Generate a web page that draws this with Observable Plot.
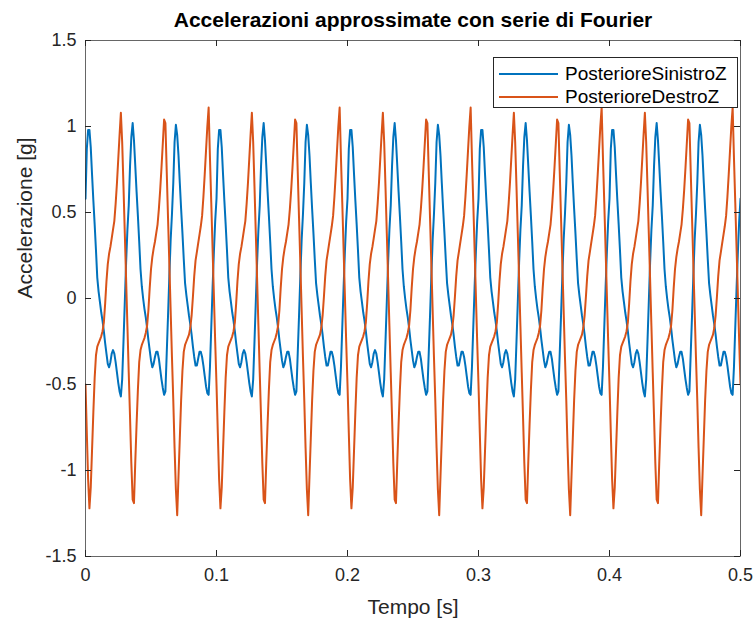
<!DOCTYPE html>
<html>
<head>
<meta charset="utf-8">
<script src="https://cdn.jsdelivr.net/npm/d3@7"></script>
<script src="https://cdn.jsdelivr.net/npm/@observablehq/plot@0.6"></script>
<style>
  html, body { margin: 0; padding: 0; background: #fff; }
  #wrap { position: relative; width: 755px; height: 619px; overflow: hidden; }
  #legend {
    position: absolute; left: 493px; top: 57px; width: 245px; height: 51px;
    border: 1px solid #262626; background: #fff; box-sizing: border-box;
    font-family: "Liberation Sans", Arial, sans-serif; font-size: 19px; color: #000;
  }
  .row { position: absolute; left: 5px; height: 22px; display: flex; align-items: center; }
  .sw { width: 59px; height: 2px; margin-right: 7px; }
</style>
</head>
<body>
<div id="wrap">
  <div id="chart"></div>
  <div id="legend"></div>
</div>
<script>
// Sample step of the series (seconds)
const dt = 0.001;
const seriesNames = ["PosterioreSinistroZ", "PosterioreDestroZ"];
const seriesColors = ["#0072BD", "#D95319"];
const titleText = "Accelerazioni approssimate con serie di Fourier";
const xLabel = "Tempo [s]";
const yLabel = "Accelerazione [g]";
const xTicks = [0, 0.1, 0.2, 0.3, 0.4, 0.5];
const xTickLabels = ["0", "0.1", "0.2", "0.3", "0.4", "0.5"];
const yTicks = [-1.5, -1, -0.5, 0, 0.5, 1, 1.5];
const yTickLabels = ["-1.5", "-1", "-0.5", "0", "0.5", "1", "1.5"];

// PosterioreSinistroZ, one value per ms from 0 to 0.5 s
const sinistroZ = [
0.58,0.87,0.98,0.98,0.88,0.72,0.57,0.43,0.28,0.12,0.04,-0.02,-0.08,-0.13,-0.19,-0.26,-0.32,-0.38,-0.40,-0.37,-0.32,-0.30,-0.32,-0.37,-0.43,-0.49,-0.54,-0.57,-0.47,-0.25,-0.02,0.21,0.40,0.54,
0.77,0.94,1.02,0.92,0.77,0.62,0.48,0.33,0.17,0.07,0.00,-0.06,-0.11,-0.17,-0.24,-0.30,-0.36,-0.40,-0.38,-0.34,-0.31,-0.31,-0.35,-0.41,-0.47,-0.52,-0.56,-0.54,-0.32,-0.10,0.13,0.34,0.49,
0.67,0.91,1.01,0.95,0.83,0.67,0.52,0.38,0.23,0.09,0.02,-0.04,-0.10,-0.15,-0.21,-0.28,-0.34,-0.39,-0.39,-0.35,-0.31,-0.31,-0.34,-0.39,-0.45,-0.51,-0.55,-0.56,-0.40,-0.17,0.06,0.27,0.45,
0.58,0.87,0.98,0.98,0.88,0.72,0.57,0.43,0.28,0.12,0.04,-0.02,-0.08,-0.13,-0.19,-0.26,-0.32,-0.38,-0.40,-0.37,-0.32,-0.30,-0.32,-0.37,-0.43,-0.49,-0.54,-0.57,-0.47,-0.25,-0.02,0.21,0.40,0.54,
0.77,0.94,1.02,0.92,0.77,0.62,0.48,0.33,0.17,0.07,0.00,-0.06,-0.11,-0.17,-0.24,-0.30,-0.36,-0.40,-0.38,-0.34,-0.31,-0.31,-0.35,-0.41,-0.47,-0.52,-0.56,-0.54,-0.32,-0.10,0.13,0.34,0.49,
0.67,0.91,1.01,0.95,0.83,0.67,0.52,0.38,0.23,0.09,0.02,-0.04,-0.10,-0.15,-0.21,-0.28,-0.34,-0.39,-0.39,-0.35,-0.31,-0.31,-0.34,-0.39,-0.45,-0.51,-0.55,-0.56,-0.40,-0.17,0.06,0.27,0.45,
0.58,0.87,0.98,0.98,0.88,0.72,0.57,0.43,0.28,0.12,0.04,-0.02,-0.08,-0.13,-0.19,-0.26,-0.32,-0.38,-0.40,-0.37,-0.32,-0.30,-0.32,-0.37,-0.43,-0.49,-0.54,-0.57,-0.47,-0.25,-0.02,0.21,0.40,0.54,
0.77,0.94,1.02,0.92,0.77,0.62,0.48,0.33,0.17,0.07,0.00,-0.06,-0.11,-0.17,-0.24,-0.30,-0.36,-0.40,-0.38,-0.34,-0.31,-0.31,-0.35,-0.41,-0.47,-0.52,-0.56,-0.54,-0.32,-0.10,0.13,0.34,0.49,
0.67,0.91,1.01,0.95,0.83,0.67,0.52,0.38,0.23,0.09,0.02,-0.04,-0.10,-0.15,-0.21,-0.28,-0.34,-0.39,-0.39,-0.35,-0.31,-0.31,-0.34,-0.39,-0.45,-0.51,-0.55,-0.56,-0.40,-0.17,0.06,0.27,0.45,
0.58,0.87,0.98,0.98,0.88,0.72,0.57,0.43,0.28,0.12,0.04,-0.02,-0.08,-0.13,-0.19,-0.26,-0.32,-0.38,-0.40,-0.37,-0.32,-0.30,-0.32,-0.37,-0.43,-0.49,-0.54,-0.57,-0.47,-0.25,-0.02,0.21,0.40,0.54,
0.77,0.94,1.02,0.92,0.77,0.62,0.48,0.33,0.17,0.07,0.00,-0.06,-0.11,-0.17,-0.24,-0.30,-0.36,-0.40,-0.38,-0.34,-0.31,-0.31,-0.35,-0.41,-0.47,-0.52,-0.56,-0.54,-0.32,-0.10,0.13,0.34,0.49,
0.67,0.91,1.01,0.95,0.83,0.67,0.52,0.38,0.23,0.09,0.02,-0.04,-0.10,-0.15,-0.21,-0.28,-0.34,-0.39,-0.39,-0.35,-0.31,-0.31,-0.34,-0.39,-0.45,-0.51,-0.55,-0.56,-0.40,-0.17,0.06,0.27,0.45,
0.58,0.87,0.98,0.98,0.88,0.72,0.57,0.43,0.28,0.12,0.04,-0.02,-0.08,-0.13,-0.19,-0.26,-0.32,-0.38,-0.40,-0.37,-0.32,-0.30,-0.32,-0.37,-0.43,-0.49,-0.54,-0.57,-0.47,-0.25,-0.02,0.21,0.40,0.54,
0.77,0.94,1.02,0.92,0.77,0.62,0.48,0.33,0.17,0.07,0.00,-0.06,-0.11,-0.17,-0.24,-0.30,-0.36,-0.40,-0.38,-0.34,-0.31,-0.31,-0.35,-0.41,-0.47,-0.52,-0.56,-0.54,-0.32,-0.10,0.13,0.34,0.49,
0.67,0.91,1.01,0.95,0.83,0.67,0.52,0.38,0.23,0.09,0.02,-0.04,-0.10,-0.15,-0.21,-0.28,-0.34,-0.39,-0.39,-0.35,-0.31,-0.31,-0.34,-0.39,-0.45,-0.51,-0.55,-0.56,-0.40,-0.17,0.06,0.27,0.45,
0.58
];

// PosterioreDestroZ, one value per ms from 0 to 0.5 s
const destroZ = [
-0.50,-0.78,-1.05,-1.22,-1.10,-0.88,-0.66,-0.46,-0.33,-0.28,-0.26,-0.24,-0.22,-0.19,-0.14,-0.03,0.10,0.20,0.26,0.30,0.35,0.40,0.45,0.55,0.67,0.81,0.95,1.08,0.91,0.65,0.38,0.11,-0.16,-0.43,
-0.69,-0.96,-1.17,-1.19,-0.95,-0.73,-0.53,-0.37,-0.30,-0.27,-0.25,-0.23,-0.20,-0.16,-0.07,0.06,0.17,0.24,0.29,0.33,0.38,0.43,0.52,0.63,0.76,0.90,1.04,1.02,0.74,0.47,0.20,-0.07,-0.34,
-0.59,-0.87,-1.11,-1.26,-1.03,-0.81,-0.59,-0.42,-0.31,-0.27,-0.25,-0.23,-0.21,-0.17,-0.10,0.01,0.13,0.22,0.27,0.32,0.37,0.42,0.48,0.59,0.72,0.86,1.00,1.11,0.82,0.56,0.29,0.02,-0.25,
-0.50,-0.78,-1.05,-1.22,-1.10,-0.88,-0.66,-0.46,-0.33,-0.28,-0.26,-0.24,-0.22,-0.19,-0.14,-0.03,0.10,0.20,0.26,0.30,0.35,0.40,0.45,0.55,0.67,0.81,0.95,1.08,0.91,0.65,0.38,0.11,-0.16,-0.43,
-0.69,-0.96,-1.17,-1.19,-0.95,-0.73,-0.53,-0.37,-0.30,-0.27,-0.25,-0.23,-0.20,-0.16,-0.07,0.06,0.17,0.24,0.29,0.33,0.38,0.43,0.52,0.63,0.76,0.90,1.04,1.02,0.74,0.47,0.20,-0.07,-0.34,
-0.59,-0.87,-1.11,-1.26,-1.03,-0.81,-0.59,-0.42,-0.31,-0.27,-0.25,-0.23,-0.21,-0.17,-0.10,0.01,0.13,0.22,0.27,0.32,0.37,0.42,0.48,0.59,0.72,0.86,1.00,1.11,0.82,0.56,0.29,0.02,-0.25,
-0.50,-0.78,-1.05,-1.22,-1.10,-0.88,-0.66,-0.46,-0.33,-0.28,-0.26,-0.24,-0.22,-0.19,-0.14,-0.03,0.10,0.20,0.26,0.30,0.35,0.40,0.45,0.55,0.67,0.81,0.95,1.08,0.91,0.65,0.38,0.11,-0.16,-0.43,
-0.69,-0.96,-1.17,-1.19,-0.95,-0.73,-0.53,-0.37,-0.30,-0.27,-0.25,-0.23,-0.20,-0.16,-0.07,0.06,0.17,0.24,0.29,0.33,0.38,0.43,0.52,0.63,0.76,0.90,1.04,1.02,0.74,0.47,0.20,-0.07,-0.34,
-0.59,-0.87,-1.11,-1.26,-1.03,-0.81,-0.59,-0.42,-0.31,-0.27,-0.25,-0.23,-0.21,-0.17,-0.10,0.01,0.13,0.22,0.27,0.32,0.37,0.42,0.48,0.59,0.72,0.86,1.00,1.11,0.82,0.56,0.29,0.02,-0.25,
-0.50,-0.78,-1.05,-1.22,-1.10,-0.88,-0.66,-0.46,-0.33,-0.28,-0.26,-0.24,-0.22,-0.19,-0.14,-0.03,0.10,0.20,0.26,0.30,0.35,0.40,0.45,0.55,0.67,0.81,0.95,1.08,0.91,0.65,0.38,0.11,-0.16,-0.43,
-0.69,-0.96,-1.17,-1.19,-0.95,-0.73,-0.53,-0.37,-0.30,-0.27,-0.25,-0.23,-0.20,-0.16,-0.07,0.06,0.17,0.24,0.29,0.33,0.38,0.43,0.52,0.63,0.76,0.90,1.04,1.02,0.74,0.47,0.20,-0.07,-0.34,
-0.59,-0.87,-1.11,-1.26,-1.03,-0.81,-0.59,-0.42,-0.31,-0.27,-0.25,-0.23,-0.21,-0.17,-0.10,0.01,0.13,0.22,0.27,0.32,0.37,0.42,0.48,0.59,0.72,0.86,1.00,1.11,0.82,0.56,0.29,0.02,-0.25,
-0.50,-0.78,-1.05,-1.22,-1.10,-0.88,-0.66,-0.46,-0.33,-0.28,-0.26,-0.24,-0.22,-0.19,-0.14,-0.03,0.10,0.20,0.26,0.30,0.35,0.40,0.45,0.55,0.67,0.81,0.95,1.08,0.91,0.65,0.38,0.11,-0.16,-0.43,
-0.69,-0.96,-1.17,-1.19,-0.95,-0.73,-0.53,-0.37,-0.30,-0.27,-0.25,-0.23,-0.20,-0.16,-0.07,0.06,0.17,0.24,0.29,0.33,0.38,0.43,0.52,0.63,0.76,0.90,1.04,1.02,0.74,0.47,0.20,-0.07,-0.34,
-0.59,-0.87,-1.11,-1.26,-1.03,-0.81,-0.59,-0.42,-0.31,-0.27,-0.25,-0.23,-0.21,-0.17,-0.10,0.01,0.13,0.22,0.27,0.32,0.37,0.42,0.48,0.59,0.72,0.86,1.00,1.11,0.82,0.56,0.29,0.02,-0.25,
-0.50
];

const rows = [];
[sinistroZ, destroZ].forEach((arr, s) => {
  arr.forEach((v, i) => rows.push({ t: i * dt, v, series: seriesNames[s] }));
});

const W = 755, H = 619;
const mL = 85, mR = 15, mT = 40, mB = 63;
const fw = W - mL - mR, fh = H - mT - mB;
const axisCol = "#262626";
const font = "'Liberation Sans', Arial, Helvetica, sans-serif";

const chart = Plot.plot({
  width: W, height: H,
  marginLeft: mL, marginRight: mR, marginTop: mT, marginBottom: mB,
  style: { fontFamily: font, fontSize: "18px", color: axisCol, background: "#fff", overflow: "visible" },
  x: { domain: [0, 0.5] },
  y: { domain: [-1.5, 1.5] },
  color: { domain: seriesNames, range: seriesColors },
  marks: [
    Plot.line(rows, { x: "t", y: "v", z: "series", stroke: "series", strokeWidth: 2, strokeLinejoin: "round", clip: true }),
    Plot.frame({ stroke: axisCol, strokeWidth: 0.7 }),
    // inward ticks on all four sides
    Plot.tickX(xTicks, { x: d => d, stroke: axisCol, insetTop: fh - 6 }),
    Plot.tickX(xTicks, { x: d => d, stroke: axisCol, insetBottom: fh - 6 }),
    Plot.tickY(yTicks, { y: d => d, stroke: axisCol, insetRight: fw - 6 }),
    Plot.tickY(yTicks, { y: d => d, stroke: axisCol, insetLeft: fw - 6 }),
    Plot.axisX({ ticks: xTicks, tickFormat: (d, i) => xTickLabels[i], tickSize: 0, tickPadding: 12, label: null, fontSize: 18 }),
    Plot.axisY({ ticks: yTicks, tickFormat: (d, i) => yTickLabels[i], tickSize: 0, tickPadding: 9, label: null, fontSize: 18 }),
    Plot.text([xLabel], { frameAnchor: "bottom", lineAnchor: "middle", dy: 51, fontSize: 21, fill: axisCol }),
    Plot.text([yLabel], { frameAnchor: "left", lineAnchor: "middle", dx: -60, rotate: -90, fontSize: 21, fill: axisCol }),
    Plot.text([titleText], { frameAnchor: "top", lineAnchor: "middle", dy: -20, fontSize: 21, fontWeight: "bold", fill: "#000" })
  ]
});
document.getElementById("chart").appendChild(chart);

const legend = document.getElementById("legend");
seriesNames.forEach((name, i) => {
  const row = document.createElement("div");
  row.className = "row";
  row.style.top = (5 + i * 23) + "px";
  const sw = document.createElement("div");
  sw.className = "sw";
  sw.style.background = seriesColors[i];
  const label = document.createElement("span");
  label.textContent = name;
  row.appendChild(sw);
  row.appendChild(label);
  legend.appendChild(row);
});
</script>
</body>
</html>
